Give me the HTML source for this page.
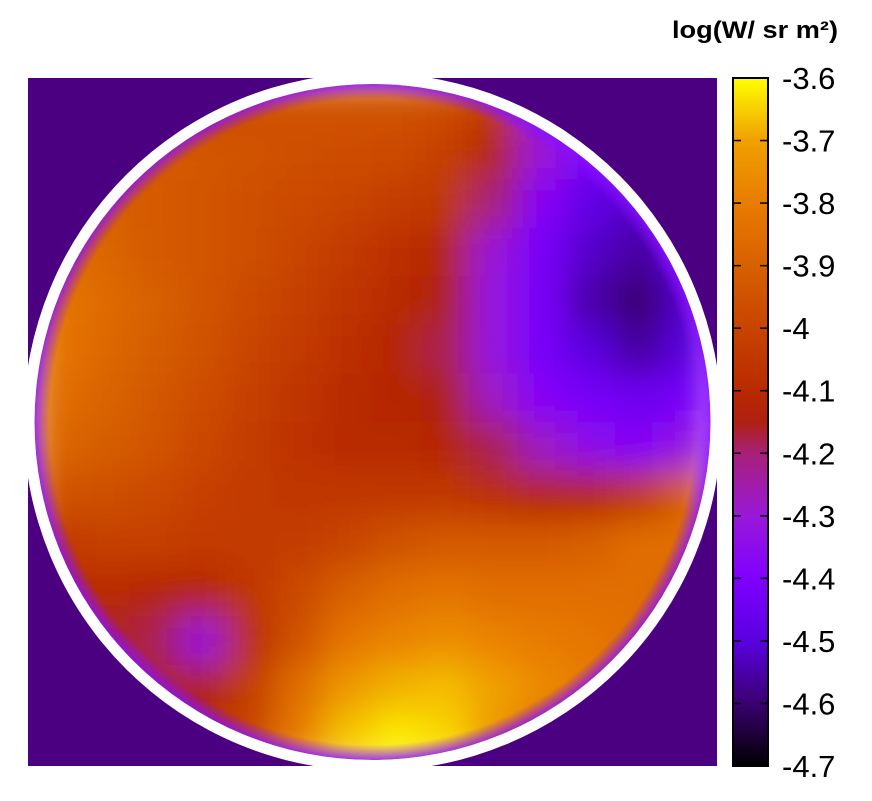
<!DOCTYPE html>
<html><head><meta charset="utf-8"><style>
body{margin:0;background:#fff;width:872px;height:796px;overflow:hidden;font-family:"Liberation Sans",sans-serif}
</style></head><body>
<svg id="chart" width="872" height="796" viewBox="0 0 872 796" xmlns="http://www.w3.org/2000/svg">
<defs>
<clipPath id="plotclip"><rect x="28" y="78" width="689" height="688"/></clipPath>
<clipPath id="disk"><circle cx="372.5" cy="422" r="338"/></clipPath>
<filter id="blur" x="32" y="82" width="680" height="680" filterUnits="userSpaceOnUse"><feGaussianBlur stdDeviation="17" edgeMode="duplicate"/></filter>
<radialGradient id="limb" cx="372.5" cy="422" r="338" gradientUnits="userSpaceOnUse">
<stop offset="0.955" stop-color="#8a10ff" stop-opacity="0"/>
<stop offset="1" stop-color="#8a10ff" stop-opacity="0.8"/>
</radialGradient>
<linearGradient id="cbgrad" x1="0" y1="1" x2="0" y2="0"></linearGradient>
</defs>
<rect x="28" y="78" width="689" height="688" fill="#4b0082"/>
<g clip-path="url(#plotclip)"><circle cx="372.5" cy="422" r="349" fill="#fff"/></g>
<g clip-path="url(#disk)"><g id="cells" filter="url(#blur)"></g><circle cx="372.5" cy="422" r="338" fill="url(#limb)"/></g>
<text x="838" y="38" text-anchor="end" font-size="24" font-weight="bold" fill="#000" textLength="166" lengthAdjust="spacingAndGlyphs">log(W/ sr m²)</text>
<rect x="733" y="78" width="35" height="688" fill="url(#cbgrad)" stroke="#000" stroke-width="2"/>
<g id="ticks"></g>
</svg>
<script>
const cbTicks=["-3.6","-3.7","-3.8","-3.9","-4","-4.1","-4.2","-4.3","-4.4","-4.5","-4.6","-4.7"];
const stopVals=[-4.7,-4.6,-4.5,-4.4,-4.3,-4.2,-4.15,-4.1,-4.0,-3.9,-3.8,-3.7,-3.6];
const stopCols=["#000000","#3a0070","#5a00e0","#8000ff","#9a18d8","#a8207a","#b02010","#b82a00","#c84400","#d86000","#e87c00","#f0a000","#ffff00"];
const grid=[
[-4.3,-4.2,-4.0,-3.98,-3.96,-3.95,-3.95,-3.95,-3.97,-4.05,-4.3,-4.4,-4.45,-4.45],
[-4.1,-3.97,-3.93,-3.93,-3.95,-3.96,-3.97,-3.98,-4.02,-4.12,-4.3,-4.42,-4.5,-4.5],
[-3.95,-3.9,-3.92,-3.94,-3.96,-3.98,-4.0,-4.03,-4.05,-4.2,-4.38,-4.48,-4.52,-4.5],
[-3.85,-3.88,-3.92,-3.94,-3.96,-4.0,-4.04,-4.08,-4.12,-4.3,-4.42,-4.52,-4.56,-4.5],
[-3.82,-3.86,-3.9,-3.94,-3.98,-4.02,-4.06,-4.1,-4.15,-4.32,-4.42,-4.55,-4.6,-4.52],
[-3.82,-3.87,-3.91,-3.95,-4.0,-4.04,-4.08,-4.12,-4.18,-4.32,-4.42,-4.5,-4.56,-4.5],
[-3.85,-3.89,-3.93,-3.97,-4.02,-4.06,-4.1,-4.12,-4.15,-4.28,-4.38,-4.42,-4.45,-4.42],
[-3.88,-3.91,-3.94,-3.99,-4.03,-4.07,-4.1,-4.1,-4.12,-4.18,-4.28,-4.35,-4.38,-4.32],
[-3.95,-3.96,-3.98,-4.01,-4.04,-4.05,-4.05,-4.05,-4.05,-4.08,-4.12,-4.12,-4.05,-3.9],
[-4.05,-4.02,-4.02,-4.04,-4.04,-4.03,-4.0,-3.95,-3.92,-3.92,-3.92,-3.9,-3.85,-3.85],
[-4.1,-4.1,-4.12,-4.12,-4.05,-3.98,-3.9,-3.85,-3.83,-3.85,-3.85,-3.85,-3.85,-3.9],
[-4.2,-4.15,-4.18,-4.3,-4.08,-3.95,-3.82,-3.78,-3.75,-3.78,-3.8,-3.82,-3.85,-3.95],
[-4.3,-4.2,-4.15,-4.15,-4.02,-3.85,-3.72,-3.68,-3.67,-3.7,-3.76,-3.8,-3.9,-4.1],
[-4.4,-4.3,-4.2,-4.1,-4.0,-3.8,-3.66,-3.62,-3.64,-3.72,-3.85,-3.95,-4.1,-4.3]
];
const NS="http://www.w3.org/2000/svg";
const vMin=-4.7,vMax=-3.6,cbTop=78,cbBot=766;
const gx0=32,gy0=82,gw=680,gh=680;
function hex(h){return [1,3,5].map(i=>parseInt(h.substr(i,2),16));}
function color(v){
  if(v<=stopVals[0])return stopCols[0];
  for(let i=1;i<stopVals.length;i++){
    if(v<=stopVals[i]){const t=(v-stopVals[i-1])/(stopVals[i]-stopVals[i-1]);
      const a=hex(stopCols[i-1]),b=hex(stopCols[i]);
      return "rgb("+a.map((c,k)=>Math.round(c+(b[k]-c)*t)).join(",")+")";}
  }
  return stopCols[stopCols.length-1];
}
function yScale(v){return cbBot-(v-vMin)/(vMax-vMin)*(cbBot-cbTop);}
const cells=document.getElementById('cells');
const rows=grid.length;
grid.forEach((row,r)=>{const cols=row.length;row.forEach((v,c)=>{
  const el=document.createElementNS(NS,'rect');
  
  
  el.setAttribute('x',gx0+c*gw/cols);el.setAttribute('y',gy0+r*gh/rows);
  el.setAttribute('width',gw/cols+1);el.setAttribute('height',gh/rows+1);
  el.setAttribute('fill',color(v));cells.appendChild(el);
});});
const grad=document.getElementById('cbgrad');
stopVals.forEach((v,i)=>{const s=document.createElementNS(NS,'stop');
  s.setAttribute('offset',(v-vMin)/(vMax-vMin));s.setAttribute('stop-color',stopCols[i]);grad.appendChild(s);});
const tg=document.getElementById('ticks');
cbTicks.forEach(t=>{const y=yScale(parseFloat(t));
  [[733,741],[760,768]].forEach(p=>{const l=document.createElementNS(NS,'line');
    
    
    l.setAttribute('x1',p[0]);l.setAttribute('x2',p[1]);l.setAttribute('y1',y);l.setAttribute('y2',y);
    l.setAttribute('stroke','#000');l.setAttribute('stroke-width','1.5');tg.appendChild(l);});
  const tx=document.createElementNS(NS,'text');
  
  
  tx.setAttribute('x',782);tx.setAttribute('y',y+11);tx.setAttribute('font-size','31');tx.textContent=t;tg.appendChild(tx);
});
</script>
</body></html>
